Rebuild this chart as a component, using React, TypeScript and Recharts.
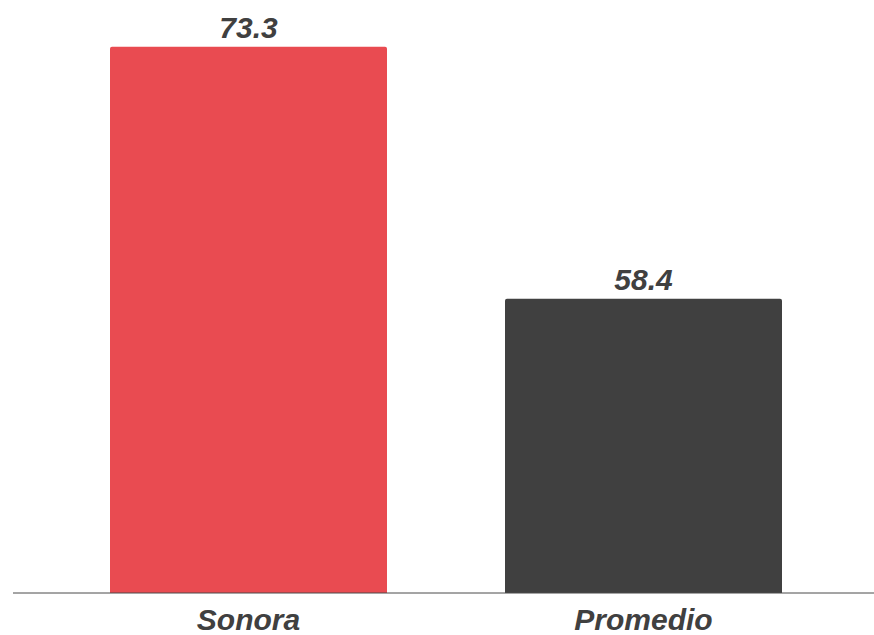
import React from 'react';
import { BarChart, Bar, XAxis, YAxis, Cell, LabelList } from 'recharts';

const categories = ['Sonora', 'Promedio'];
const values = [73.3, 58.4];
const colors = ['#E94B51', '#404040'];

const data = categories.map((name, i) => ({ name, value: values[i] }));

const fontFamily = '"Liberation Sans", Arial, sans-serif';

export default function App() {
  return (
    <div style={{ position: 'absolute', left: 0, top: 0, background: '#fff' }}>
      <BarChart width={874} height={635} data={data} margin={{ top: 18, right: 0, left: 13, bottom: 0 }}>
        <XAxis
          dataKey="name"
          height={42}
          padding={{ left: 38, right: 33 }}
          axisLine={{ stroke: '#4a4a4a', strokeWidth: 1 }}
          tickLine={false}
          tickSize={0}
          tickMargin={16}
          tick={{ fontSize: 30, fontWeight: 'bold', fontStyle: 'italic', fill: '#404040', fontFamily }}
        />
        <YAxis hide domain={[41, 75]} allowDataOverflow />
        <Bar dataKey="value" barSize={277} radius={[2, 2, 0, 0]} isAnimationActive={false}>
          {data.map((d, i) => (
            <Cell key={d.name} fill={colors[i]} />
          ))}
          <LabelList
            dataKey="value"
            position="top"
            offset={9}
            formatter={(v: number) => v.toFixed(1)}
            style={{ fontSize: 30, fontWeight: 'bold', fontStyle: 'italic', fill: '#404040', fontFamily }}
          />
        </Bar>
      </BarChart>
    </div>
  );
}
